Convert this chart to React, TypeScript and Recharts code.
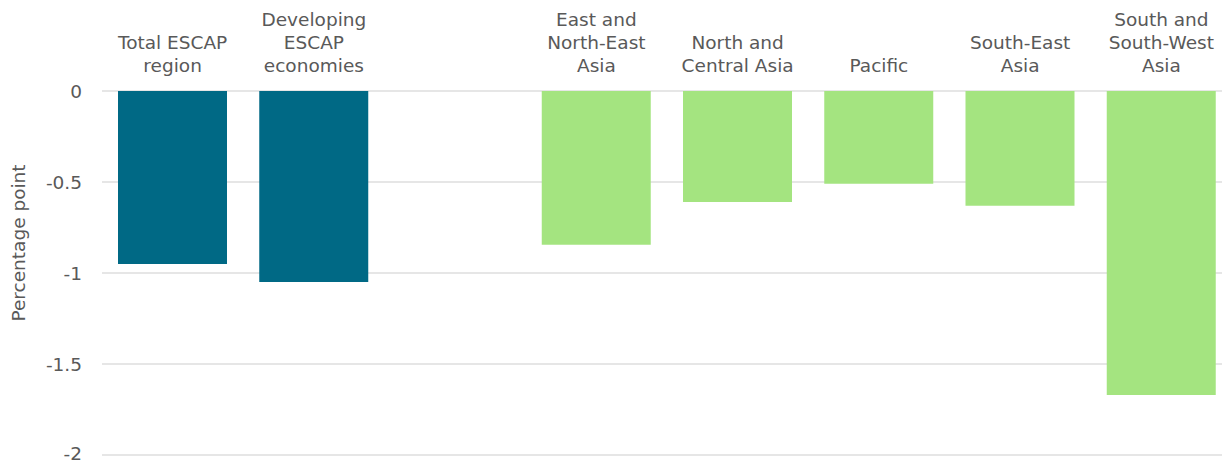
import React from "react";
import { BarChart, Bar, XAxis, YAxis, CartesianGrid } from "recharts";

// category labels, "\n" marks a line break
const categories = [
  "Total ESCAP\nregion",
  "Developing\nESCAP\neconomies",
  "",
  "East and\nNorth-East\nAsia",
  "North and\nCentral Asia",
  "Pacific",
  "South-East\nAsia",
  "South and\nSouth-West\nAsia",
];

const escapValues = [-0.95, -1.05, null, null, null, null, null, null];
const subregionValues = [null, null, null, -0.845, -0.61, -0.51, -0.63, -1.67];

const yTicks = [0, -0.5, -1, -1.5, -2];

const data = categories.map((name, i) => ({
  name,
  escap: escapValues[i],
  subregion: subregionValues[i],
}));

const TEXT = "#595959";
const FONT = "'DejaVu Sans', Verdana, sans-serif";
const FS = 18.5;

function CategoryTick(props: any) {
  const { x, y, payload } = props;
  const lines = String(payload.value).split("\n").filter((l) => l !== "");
  const last = y - 11;
  return (
    <g>
      {lines.map((line: string, i: number) => (
        <text
          key={i}
          x={x}
          y={last - (lines.length - 1 - i) * 23}
          textAnchor="middle"
          fill={TEXT}
          fontSize={FS}
          fontFamily={FONT}
        >
          {line}
        </text>
      ))}
    </g>
  );
}

export default function App() {
  return (
    <div
      style={{
        position: "absolute",
        left: 0,
        top: 0,
        width: 1222,
        height: 464,
        overflow: "hidden",
        background: "#fff",
      }}
    >
      <BarChart
        width={1240}
        height={464}
        data={data}
        margin={{ top: 0, right: 8, bottom: 9, left: 10 }}
        barSize={109}
      >
        <CartesianGrid vertical={false} stroke="#e6e6e6" strokeWidth={2} />
        <XAxis
          dataKey="name"
          orientation="top"
          height={91}
          axisLine={false}
          tickLine={false}
          interval={0}
          tick={<CategoryTick />}
        />
        <YAxis
          width={92}
          domain={[-2, 0]}
          ticks={yTicks}
          axisLine={false}
          tickLine={false}
          tickMargin={14}
          tick={{ fill: TEXT, fontSize: FS, fontFamily: FONT }}
          label={{
            value: "Percentage point",
            position: "insideLeft",
            content: () => (
              <text
                x={18}
                y={243}
                transform="rotate(-90 18 243)"
                textAnchor="middle"
                dominantBaseline="central"
                fill={TEXT}
                fontSize={FS}
                fontFamily={FONT}
              >
                Percentage point
              </text>
            ),
          }}
        />
        <Bar dataKey="escap" stackId="a" fill="#006985" isAnimationActive={false} />
        <Bar dataKey="subregion" stackId="a" fill="#a4e480" isAnimationActive={false} />
      </BarChart>
    </div>
  );
}
